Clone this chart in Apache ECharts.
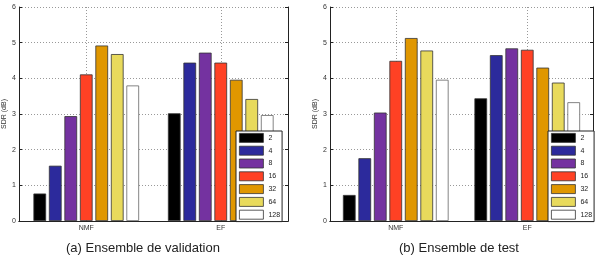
<!DOCTYPE html>
<html lang="fr">
<head>
<meta charset="UTF-8">
<title>SDR par rang</title>
<script src="https://cdn.jsdelivr.net/npm/echarts/dist/echarts.min.js"></script>
<style>
    html, body { margin: 0; padding: 0; background: #fff; }
    #chart { width: 603px; height: 260px; }
</style>
</head>
<body>

<div id="chart"></div>

<script>
var categories = ['NMF', 'EF'];
var ranks = ['2', '4', '8', '16', '32', '64', '128'];
var colors = ['#000000', '#2c2a9c', '#7432a0', '#ff4124', '#e09700', '#e8da5c', '#ffffff'];
var yTicks = [0, 1, 2, 3, 4, 5, 6];

// (a) validation set
var valNMF = [0.77, 1.55, 2.94, 4.11, 4.92, 4.68, 3.80];
var valEF  = [3.02, 4.44, 4.72, 4.44, 3.96, 3.42, 2.97];
// (b) test set
var testNMF = [0.73, 1.76, 3.04, 4.49, 5.13, 4.78, 3.96];
var testEF  = [3.44, 4.65, 4.84, 4.80, 4.30, 3.88, 3.33];

var captions = ['(a) Ensemble de validation', '(b) Ensemble de test'];

var grids = [
    { left: 18, right: 315, top: 7, bottom: 39 },
    { left: 330, right: 10, top: 7, bottom: 39 }
];

var chart = echarts.init(document.getElementById('chart'));

var axisColor = '#222';
var gridLine = { show: true, lineStyle: { color: '#999', type: [1, 2], width: 1 } };

var xAxes = [], yAxes = [], series = [];
grids.forEach(function (g, gi) {
    xAxes.push({
        type: 'category', gridIndex: gi, data: categories,
        axisLine: { lineStyle: { color: axisColor } },
        axisTick: { alignWithLabel: true, inside: true, length: 3, lineStyle: { color: axisColor } },
        axisLabel: { fontSize: 7, color: '#333', margin: 4, fontFamily: 'Liberation Sans' },
        splitLine: Object.assign({ alignWithLabel: true }, gridLine)
    });
    // top edge of the box
    xAxes.push({
        type: 'category', gridIndex: gi, data: categories, position: 'top',
        axisLine: { lineStyle: { color: axisColor } },
        axisTick: { alignWithLabel: true, inside: true, length: 3, lineStyle: { color: axisColor } },
        axisLabel: { show: false }, splitLine: { show: false }
    });
    yAxes.push({
        type: 'value', gridIndex: gi, min: 0, max: 6, interval: 1,
        name: 'SDR (dB)', nameLocation: 'middle', nameGap: 11,
        nameTextStyle: { fontSize: 7, color: '#333', fontFamily: 'Liberation Sans' },
        axisLine: { show: true, lineStyle: { color: axisColor } },
        axisTick: { show: true, inside: true, length: 3, lineStyle: { color: axisColor } },
        axisLabel: { fontSize: 7, color: '#333', margin: 3, fontFamily: 'Liberation Sans',
            formatter: function (v) { return yTicks.indexOf(v) >= 0 ? String(v) : ''; } },
        splitLine: gridLine
    });
    // right edge of the box
    yAxes.push({
        type: 'value', gridIndex: gi, min: 0, max: 6, interval: 1, position: 'right',
        axisLine: { show: true, lineStyle: { color: axisColor } },
        axisTick: { show: true, inside: true, length: 3, lineStyle: { color: axisColor } },
        axisLabel: { show: false }, splitLine: { show: false }
    });
});

var sets = [[valNMF, valEF], [testNMF, testEF]];
sets.forEach(function (s, gi) {
    ranks.forEach(function (r, i) {
        series.push({
            name: r, type: 'bar',
            xAxisIndex: gi * 2, yAxisIndex: gi * 2,
            data: [s[0][i], s[1][i]],
            barWidth: 12.7, barGap: '22%',
            itemStyle: { color: colors[i], borderColor: i === 6 ? '#666' : '#333', borderWidth: 0.8 },
            emphasis: { disabled: true }
        });
    });
});

var legendBase = {
    orient: 'vertical', data: ranks,
    itemWidth: 24, itemHeight: 9, itemGap: 3,
    padding: [2, 2, 2, 3],
    backgroundColor: '#fff', borderColor: '#222', borderWidth: 1, borderRadius: 0,
    icon: 'rect',
    itemStyle: { borderColor: '#333', borderWidth: 0.8 },
    textStyle: { fontSize: 7, color: '#222', lineHeight: 9, fontFamily: 'Liberation Sans' },
    selectedMode: false
};

var option = {
    animation: false,
    grid: grids,
    xAxis: xAxes,
    yAxis: yAxes,
    legend: [
        Object.assign({ left: 236, top: 131 }, legendBase),
        Object.assign({ left: 548, top: 131 }, legendBase)
    ],
    graphic: [
        { type: 'text', x: 143, y: 248, style: { text: captions[0], align: 'center', verticalAlign: 'middle',
            font: '13px "Liberation Sans"', fill: '#222' } },
        { type: 'text', x: 459, y: 248, style: { text: captions[1], align: 'center', verticalAlign: 'middle',
            font: '13px "Liberation Sans"', fill: '#222' } }
    ],
    series: series
};

chart.setOption(option);
</script>

</body>
</html>
